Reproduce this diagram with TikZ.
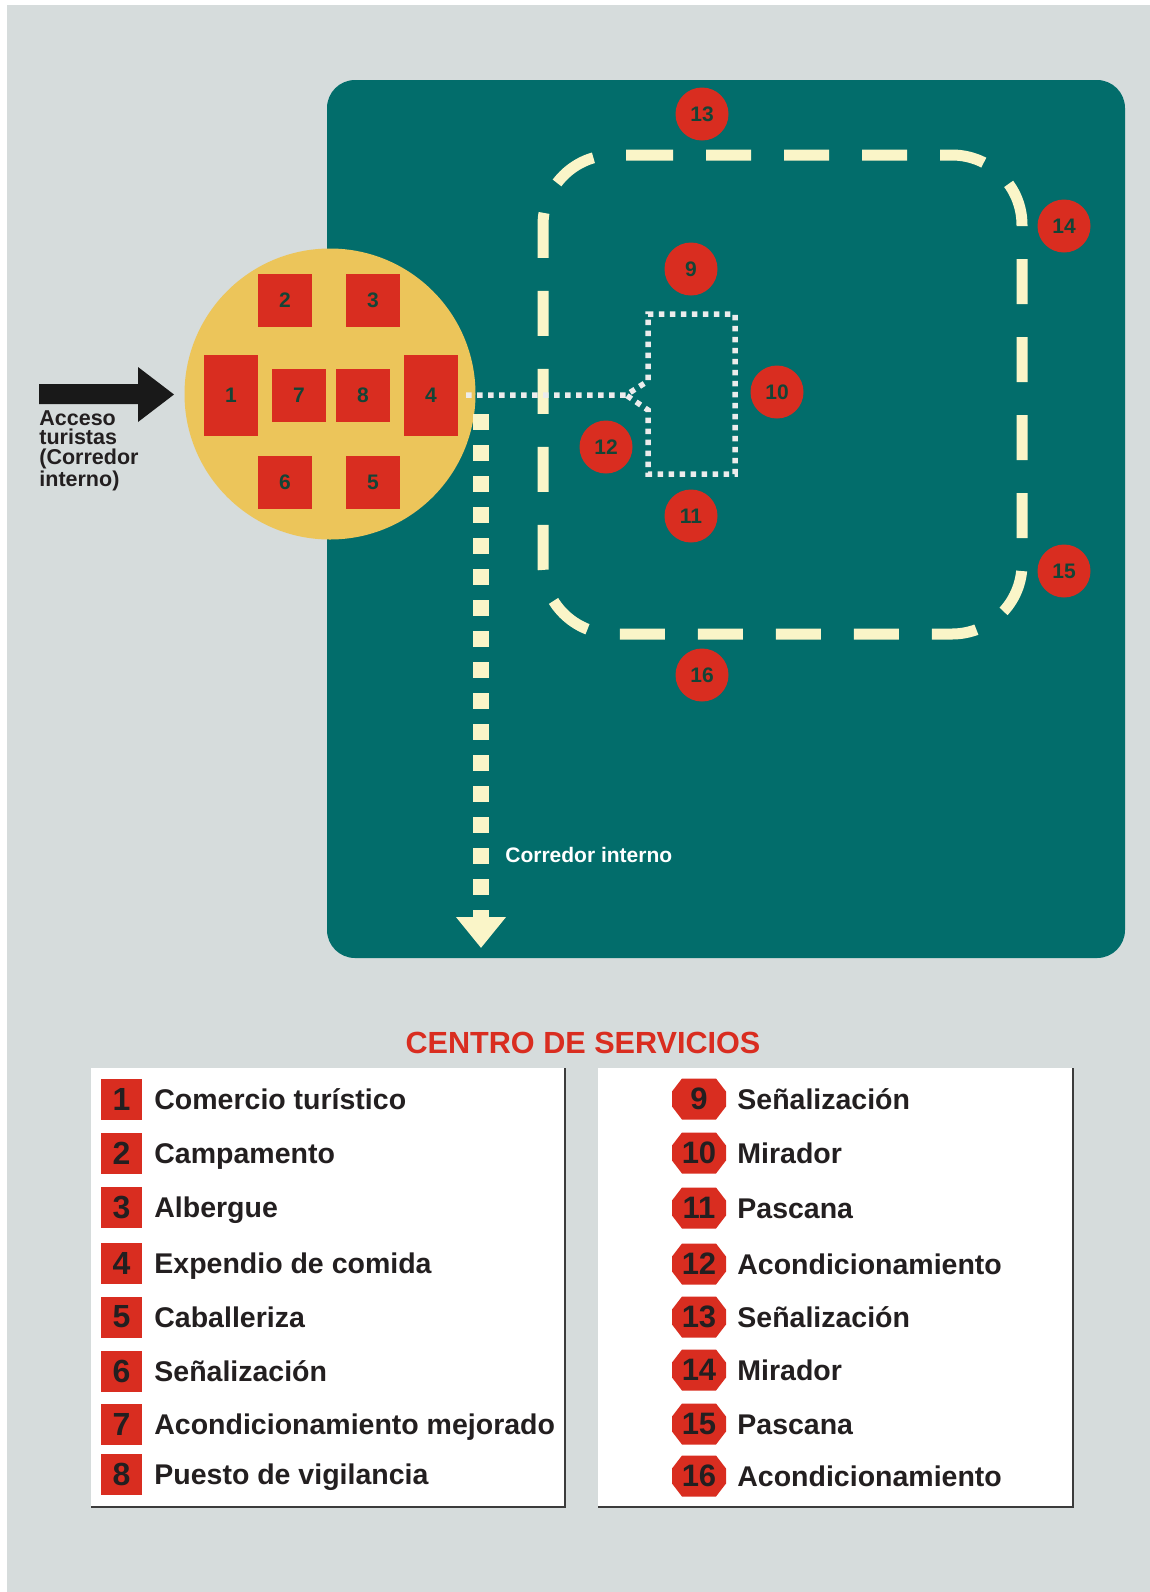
\documentclass[tikz,border=0pt]{standalone}
\usepackage{fontspec}
\setmainfont{Liberation Sans}
\usetikzlibrary{arrows.meta}
\definecolor{bggray}{RGB}{214,220,220}
\definecolor{parkteal}{RGB}{2,109,107}
\definecolor{hubyellow}{RGB}{236,197,90}
\definecolor{boxred}{RGB}{217,45,32}
\definecolor{labgreen}{RGB}{20,68,54}
\definecolor{legblack}{RGB}{35,31,32}
\definecolor{creamc}{RGB}{250,245,200}
\definecolor{dotwhite}{RGB}{236,236,236}
\definecolor{shadowc}{RGB}{60,60,60}
\tikzset{
  hubbox/.style={fill=boxred, minimum width=27pt, minimum height=26.5pt, inner sep=0pt,
    font=\fontsize{10.5pt}{12pt}\bfseries, text=labgreen},
  tallbox/.style={hubbox, minimum height=40.5pt},
  marker/.style={circle, fill=boxred, minimum size=26.5pt, inner sep=0pt,
    font=\fontsize{10.5pt}{12pt}\bfseries, text=labgreen},
  legsq/.style={fill=boxred, minimum size=20.5pt, inner sep=0pt,
    font=\fontsize{16pt}{18pt}\bfseries, text=legblack},
  legnum/.style={inner sep=0pt, font=\fontsize{15.5pt}{18pt}\bfseries, text=legblack},
  legtext/.style={anchor=base west, inner sep=0pt, font=\fontsize{14.25pt}{16pt}\bfseries, text=legblack},
  loopdash/.style={draw=creamc, line width=5.5pt, dash pattern=on 22.5pt off 16.5pt, rounded corners=35pt},
  whitedot/.style={draw=dotwhite, line width=2.75pt, dash pattern=on 2.75pt off 2.75pt},
  creamdot/.style={draw=creamc, line width=8pt, dash pattern=on 8pt off 7.5pt},
  legbox/.style={fill=white},
}
\begin{document}
\begin{tikzpicture}[x=0.5pt,y=-0.5pt]
\useasboundingbox (0,0) rectangle (1150,1592);
\fill[white] (0,0) rectangle (1150,1592);
\fill[bggray] (7,5) rectangle (1150,1592);
% park area
\fill[parkteal, rounded corners=14pt] (327,80) rectangle (1125,958);
% hub
\node[circle, fill=hubyellow, minimum size=145.5pt, inner sep=0pt] (hub) at (330,394) {};
\node[hubbox] (b2) at (285,300.5) {2};
\node[hubbox] (b3) at (373,300.5) {3};
\node[tallbox] (b1) at (231,395.5) {1};
\node[hubbox] (b7) at (299,395) {7};
\node[hubbox] (b8) at (363,395) {8};
\node[tallbox] (b4) at (431,395.5) {4};
\node[hubbox] (b6) at (285,482) {6};
\node[hubbox] (b5) at (373,482) {5};
% access arrow
\fill[black!90] (39,384) -- (138,384) -- (138,367) -- (174,394.5) -- (138,422) -- (138,404) -- (39,404) -- cycle;
\node[anchor=north west, inner sep=0pt, align=left, text=legblack,
  font=\fontsize{10.75pt}{9.75pt}\bfseries] (acc) at (39,410) {Acceso\\turistas\\(Corredor\\interno)};
% dashed loop
\coordinate (lp) at (628,155);
\draw[loopdash] (lp) -- (1022,155) -- (1022,634) -- (543,634) -- (543,155) -- (lp);
% white dotted path and viewpoint area
\coordinate (hubE) at (466,395);
\coordinate (fork) at (626,395);
\draw[whitedot] (hubE) -- (fork) -- (648,381) -- (648,314) -- (735,314) -- (735,474) -- (648,474) -- (648,410) -- (fork);
% internal corridor
\coordinate (cs) at (481,414);
\coordinate (ce) at (481,948);
\draw[creamdot, -{Triangle[width=24pt,length=15.5pt]}] (cs) -- (ce);
\node[anchor=base west, inner sep=0pt, text=white, font=\fontsize{10.5pt}{12pt}\bfseries] (corr) at (505,862) {Corredor interno};
% markers
\node[marker] (m13) at (702,114) {13};
\node[marker] (m14) at (1064,226) {14};
\node[marker] (m9) at (691,269) {9};
\node[marker] (m10) at (777,392) {10};
\node[marker] (m12) at (606,447) {12};
\node[marker] (m11) at (691,516) {11};
\node[marker] (m15) at (1064,571) {15};
\node[marker] (m16) at (702,675) {16};
% legend
\node[text=boxred, inner sep=0pt, font=\fontsize{15.3pt}{18pt}\bfseries] (title) at (583,1043) {CENTRO DE SERVICIOS};
\fill[legbox] (91,1068) rectangle (565,1507);
\draw[shadowc, line width=1pt] (565,1068) -- (565,1507) -- (91,1507);
\fill[legbox] (598,1068) rectangle (1073,1507);
\draw[shadowc, line width=1pt] (1073,1068) -- (1073,1507) -- (598,1507);
\foreach \n/\yy/\t in {1/1099.5/Comercio turístico, 2/1153.5/Campamento, 3/1207.5/Albergue,
  4/1263/Expendio de comida, 5/1317/Caballeriza, 6/1371/Señalización,
  7/1424/Acondicionamiento mejorado, 8/1474/Puesto de vigilancia}{
  \node[legsq] (ls\n) at (121.5,\yy) {\n};
  \node[legtext] (lt\n) at (154,{\yy+10}) {\t};
}
\foreach \n/\yy/\t in {9/1099/Señalización, 10/1153/Mirador, 11/1208/Pascana,
  12/1264/Acondicionamiento, 13/1317/Señalización, 14/1370/Mirador,
  15/1424/Pascana, 16/1476/Acondicionamiento}{
  \fill[boxred] (672,{\yy-7.5}) -- (682,{\yy-20.5}) -- (716,{\yy-20.5}) -- (726,{\yy-7.5})
    -- (726,{\yy+7.5}) -- (716,{\yy+20.5}) -- (682,{\yy+20.5}) -- (672,{\yy+7.5}) -- cycle;
  \node[legnum] (rn\n) at (699,\yy) {\n};
  \node[legtext] (rt\n) at (737,{\yy+10}) {\t};
}
\end{tikzpicture}
\end{document}
